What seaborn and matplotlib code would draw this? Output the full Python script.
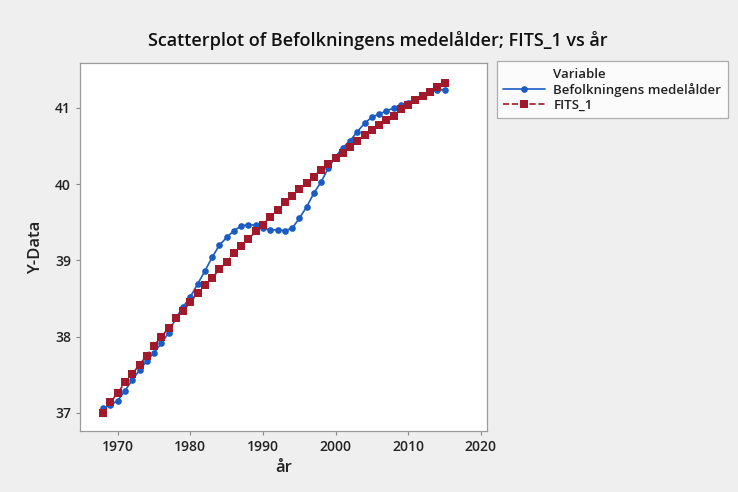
import pandas as pd
import matplotlib.pyplot as plt
import seaborn as sns
from matplotlib.lines import Line2D

# --- Data ---
years = list(range(1968, 2016))
medelalder = [37.06, 37.10, 37.16, 37.29, 37.43, 37.56, 37.68, 37.79, 37.91, 38.05,
              38.24, 38.39, 38.52, 38.69, 38.86, 39.04, 39.20, 39.30, 39.39, 39.45,
              39.47, 39.46, 39.42, 39.40, 39.40, 39.39, 39.42, 39.55, 39.70, 39.88,
              40.03, 40.21, 40.36, 40.48, 40.57, 40.69, 40.80, 40.88, 40.92, 40.96,
              41.00, 41.04, 41.07, 41.12, 41.17, 41.21, 41.23, 41.24]
fits_1 = [37.00, 37.14, 37.26, 37.40, 37.51, 37.63, 37.75, 37.88, 38.00, 38.11,
          38.24, 38.34, 38.45, 38.57, 38.67, 38.77, 38.88, 38.98, 39.09, 39.19,
          39.28, 39.38, 39.47, 39.57, 39.66, 39.76, 39.85, 39.93, 40.01, 40.10,
          40.19, 40.27, 40.34, 40.41, 40.49, 40.57, 40.64, 40.71, 40.77, 40.84,
          40.90, 40.98, 41.04, 41.10, 41.16, 41.21, 41.28, 41.33]
labels = ["Befolkningens medelålder", "FITS_1"]
xticks = [1970, 1980, 1990, 2000, 2010, 2020]
yticks = [37, 38, 39, 40, 41]

df = pd.DataFrame({"år": years, labels[0]: medelalder, labels[1]: fits_1})

blue = "#1a5bc4"
red = "#a3192c"

sns.set_theme(style="white")
plt.rcParams["font.family"] = ["Open Sans", "DejaVu Sans"]

fig = plt.figure(figsize=(7.38, 4.92), dpi=100, facecolor="#efefef")
ax = fig.add_axes([0.1084, 0.124, 0.552, 0.748])
ax.set_facecolor("white")

sns.lineplot(data=df, x="år", y=labels[0], ax=ax, color=blue, marker="o",
             markersize=4.8, markeredgewidth=0, linewidth=1.2)
sns.lineplot(data=df, x="år", y=labels[1], ax=ax, color=red, marker="s",
             markersize=5.2, markeredgewidth=0, linewidth=1.2, linestyle="--")

ax.set_xlim(1964.8, 2020.9)
ax.set_ylim(36.76, 41.59)
ax.set_xticks(xticks)
ax.set_yticks(yticks)
ax.tick_params(axis="both", direction="out", length=3, width=0.8, color="#888888",
               labelsize=10, labelcolor="#222222", bottom=True, left=True)
for t in ax.get_xticklabels() + ax.get_yticklabels():
    t.set_fontweight("semibold")
for s in ax.spines.values():
    s.set_color("#9a9a9a")
    s.set_linewidth(0.9)

ax.set_xlabel("år", fontsize=12, fontweight="semibold", color="#222222", labelpad=4)
ax.set_ylabel("Y-Data", fontsize=12, fontweight="semibold", color="#222222", labelpad=8)

fig.text(0.512, 0.918, "Scatterplot of Befolkningens medelålder; FITS_1 vs år",
         ha="center", va="center", fontsize=13, fontweight="semibold", color="#111111")

handles = [
    Line2D([], [], linestyle="none"),
    Line2D([], [], color=blue, marker="o", markersize=4.8, markeredgewidth=0, linewidth=1.2),
    Line2D([], [], color=red, marker="s", markersize=5.2, markeredgewidth=0,
           linewidth=1.2, linestyle="--"),
]
leg = fig.legend(handles, ["Variable"] + labels, loc="upper left",
                 bbox_to_anchor=(0.673, 0.876), borderaxespad=0, fancybox=False,
                 frameon=True, edgecolor="#9a9a9a", facecolor="white", fontsize=9.5,
                 handlelength=3.2, handletextpad=0.6, borderpad=0.5,
                 labelspacing=0.15)
leg.get_frame().set_linewidth(0.9)
for t in leg.get_texts():
    t.set_fontweight("semibold")
    t.set_color("#222222")

fig.savefig("out.png", dpi=100, facecolor=fig.get_facecolor())
